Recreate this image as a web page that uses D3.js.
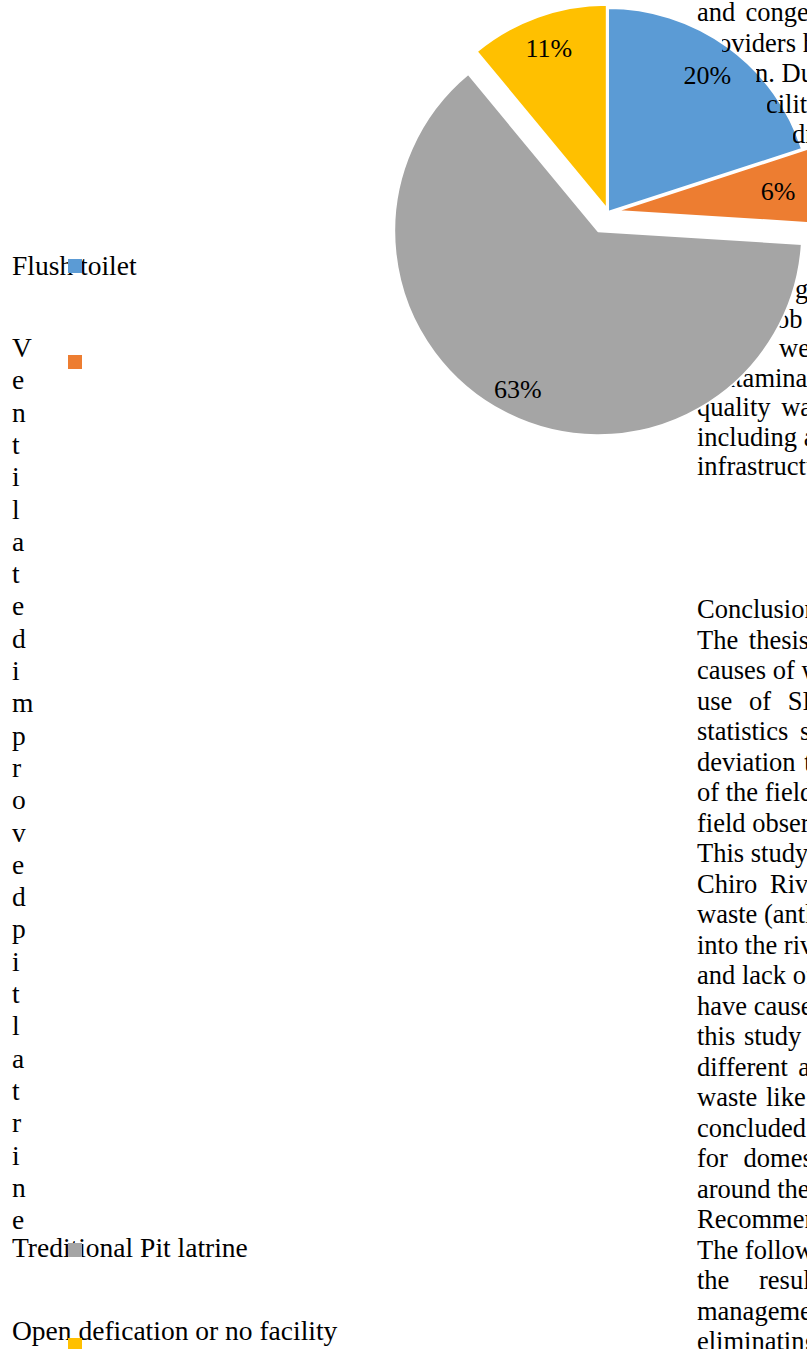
<!DOCTYPE html>
<html>
<head>
<meta charset="utf-8">
<script src="https://cdn.jsdelivr.net/npm/d3@7"></script>
<style>
  html, body { margin: 0; padding: 0; background: #fff; overflow: hidden; }
  svg { display: block; }
  text { font-family: "Liberation Serif", "Times New Roman", serif; fill: #000; }
</style>
</head>
<body>
<svg id="chart" width="807" height="1349"></svg>
<script>
// ---- data ----
const categories = ["Flush toilet", "Ventilated improved pit latrine", "Treditional Pit latrine", "Open defication or no facility"];
const values = [20, 6, 63, 11];
const colors = ["#5B9BD5", "#ED7D31", "#A5A5A5", "#FFC000"];

// surrounding document text (fragments visible around the chart)
const textTop = [
  {t: "and congestion of", ws: 3.5, x: 697, clip: 0},
  {t: "oviders have", ws: 0, x: 718, clip: 722},
  {t: "n. During", ws: 0, x: 755, clip: 756},
  {t: "cilities", ws: 0, x: 766, clip: 767},
  {t: "drainage", ws: 0, x: 792, clip: 793}
];
const textMid = [
  {t: "g", x: 795},
  {t: "ob", x: 776},
  {t: "we", x: 779},
  {t: "contamination", x: 697},
  {t: "quality  was", x: 697, ws: 4},
  {t: "including all", x: 697, ws: 0},
  {t: "infrastructure", x: 697}
];
const textBottom = [
  {t: "Conclusions", ws: 0},
  {t: "The thesis was", ws: 4},
  {t: "causes of water", ws: 0},
  {t: "use of SPSS", ws: 10},
  {t: "statistics such", ws: 5},
  {t: "deviation to", ws: 2},
  {t: "of the field", ws: 0},
  {t: "field observation", ws: 0},
  {t: "This study found", ws: 0},
  {t: "Chiro River", ws: 6},
  {t: "waste (anthropogenic)", ws: 0},
  {t: "into the river", ws: 0},
  {t: "and lack of", ws: 0},
  {t: "have caused", ws: 0},
  {t: "this study", ws: 2},
  {t: "different activities", ws: 4},
  {t: "waste like", ws: 2},
  {t: "concluded that", ws: 0},
  {t: "for domestic", ws: 9},
  {t: "around the", ws: 0},
  {t: "Recommendations", ws: 0},
  {t: "The following", ws: 0},
  {t: "the results", ws: 23},
  {t: "management", ws: 0},
  {t: "eliminating", ws: 0}
];

// ---- layout / style ----
const L = {
  cx: 608, cy: 212, r: 204,
  explode: [0, 8.5, 21.5, 3.5],
  labelR: [169, 163, 177, 171],
  labelSize: 26,
  bodySize: 26.5, bodyX: 697,
  topY0: 21, topPitch: 30.5,
  midY0: 298, midPitch: 29.5,
  bottomY0: 618, pitch: 30.5,
  legendSize: 27.5, legendX: 12, legendPitch: 32.3,
  legendTextY: [275, 357, 1257, 1340],
  legendSwatchY: [259, 355, 1243, 1338],
  swatchX: 68, swatch: 14
};

const svg = d3.select("#chart");
const defs = svg.append("defs");

// text under the pie
const under = svg.append("g");
under.selectAll("text.mid").data(textMid).join("text")
  .attr("x", d => d.x)
  .attr("y", (d, i) => L.midY0 + i * L.midPitch)
  .attr("font-size", L.bodySize)
  .attr("word-spacing", d => d.ws || 0)
  .text(d => d.t);
under.selectAll("text.bot").data(textBottom).join("text")
  .attr("x", L.bodyX)
  .attr("y", (d, i) => L.bottomY0 + i * L.pitch)
  .attr("font-size", L.bodySize)
  .attr("word-spacing", d => d.ws)
  .text(d => d.t);

// pie
const pie = d3.pie().sort(null).value(d => d)(values);
const arc = d3.arc().innerRadius(0).outerRadius(L.r);
const slices = svg.append("g").selectAll("g").data(pie).join("g")
  .attr("transform", (d, i) => {
    const m = (d.startAngle + d.endAngle) / 2;
    const e = L.explode[i];
    return `translate(${L.cx + e * Math.sin(m)},${L.cy - e * Math.cos(m)})`;
  });
slices.append("path")
  .attr("d", arc)
  .attr("fill", (d, i) => colors[i])
  .attr("stroke", "#fff")
  .attr("stroke-width", 2)
  .attr("stroke-linejoin", "round");
const total = d3.sum(values);
slices.append("text")
  .attr("x", (d, i) => L.labelR[i] * Math.sin((d.startAngle + d.endAngle) / 2))
  .attr("y", (d, i) => -L.labelR[i] * Math.cos((d.startAngle + d.endAngle) / 2))
  .attr("dy", "0.35em")
  .attr("text-anchor", "middle")
  .attr("font-size", L.labelSize)
  .text(d => Math.round(d.value / total * 100) + "%");

// text over the pie (top paragraph), clipped where it is hidden
textTop.forEach((d, i) => {
  const id = "clipTop" + i;
  const y = L.topY0 + i * L.topPitch;
  defs.append("clipPath").attr("id", id)
    .append("rect").attr("x", Math.max(d.clip, 0)).attr("y", y - 30).attr("width", 900).attr("height", 40);
  svg.append("text")
    .attr("x", d.x)
    .attr("y", y)
    .attr("font-size", L.bodySize)
    .attr("word-spacing", d.ws)
    .attr("clip-path", `url(#${id})`)
    .text(d.t);
});

// legend
const lg = svg.append("g");
categories.forEach((c, i) => {
  if (i === 1) {
    const letters = c.replace(/\s+/g, "").split("");
    lg.append("g").selectAll("text").data(letters).join("text")
      .attr("x", L.legendX)
      .attr("y", (d, j) => L.legendTextY[i] + j * L.legendPitch)
      .attr("font-size", L.legendSize)
      .text(d => d);
  } else {
    lg.append("text")
      .attr("x", L.legendX)
      .attr("y", L.legendTextY[i])
      .attr("font-size", L.legendSize)
      .text(c);
  }
});
lg.selectAll("rect").data(categories).join("rect")
  .attr("x", L.swatchX)
  .attr("y", (d, i) => L.legendSwatchY[i])
  .attr("width", L.swatch)
  .attr("height", L.swatch)
  .attr("fill", (d, i) => colors[i]);
</script>
</body>
</html>
